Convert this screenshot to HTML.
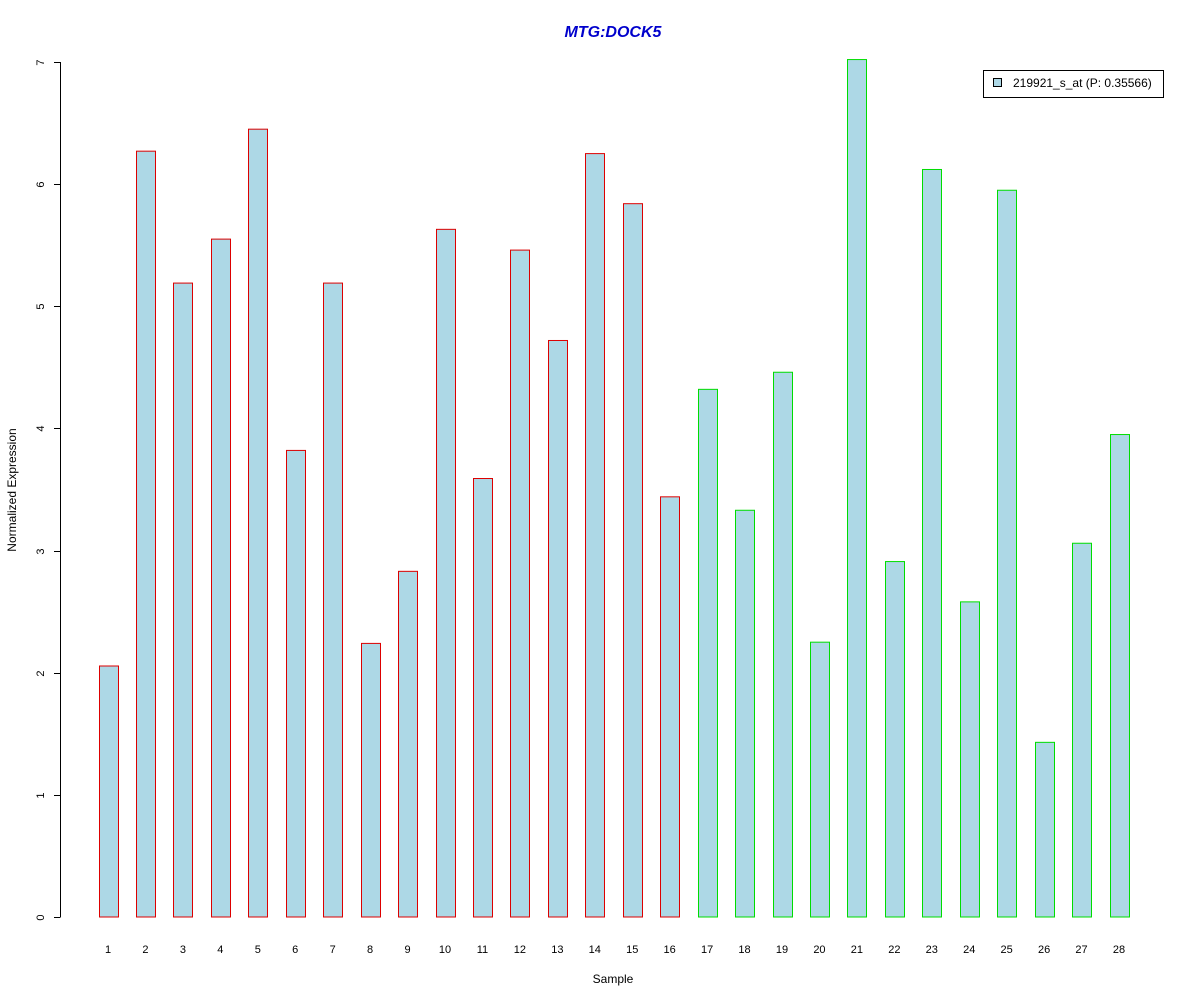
<!DOCTYPE html>
<html><head><meta charset="utf-8"><style>
body{margin:0;background:#fff}
svg{display:block;font-family:"Liberation Sans",Arial,sans-serif}
</style></head><body>
<svg id="chart" width="1200" height="1000">
<text x="613" y="37" text-anchor="middle" font-size="16" font-weight="bold" font-style="italic" fill="#0000cc">MTG:DOCK5</text>
<text x="16" y="490" transform="rotate(-90 16 490)" text-anchor="middle" font-size="12">Normalized Expression</text>
<text x="613" y="983" text-anchor="middle" font-size="12">Sample</text>
<g id="yaxis"></g>
<g id="bars"></g>
<g id="xlabels"></g>
<g>
<rect x="983.5" y="70.5" width="180" height="27" fill="#fff" stroke="#000"/>
<rect x="993.5" y="78.5" width="8" height="8" fill="#add8e6" stroke="#000"/>
<text x="1013" y="87" font-size="12">219921_s_at (P: 0.35566)</text>
</g>
</svg>
<script>
const categories=["1","2","3","4","5","6","7","8","9","10","11","12","13","14","15","16","17","18","19","20","21","22","23","24","25","26","27","28"];
const values=[2.055,6.27,5.19,5.55,6.45,3.82,5.19,2.24,2.83,5.63,3.59,5.46,4.72,6.25,5.84,3.44,4.32,3.33,4.46,2.25,7.02,2.91,6.12,2.58,5.95,1.43,3.06,3.95];
const groups=["a","a","a","a","a","a","a","a","a","a","a","a","a","a","a","a","b","b","b","b","b","b","b","b","b","b","b","b"];
const yTicks=[0,1,2,3,4,5,6,7];
const NS="http://www.w3.org/2000/svg";
const y=v=>917-v*(855/7);
const x=i=>108+i*(1011/27);
const ya=document.getElementById('yaxis'),bg=document.getElementById('bars'),xl=document.getElementById('xlabels');
function mk(tag,attrs,parent){const e=document.createElementNS(NS,tag);for(const k in attrs)e.setAttribute(k,attrs[k]);parent.appendChild(e);return e;}
const axl=mk('line',{x1:60.5,x2:60.5,y1:y(yTicks[0]),y2:y(yTicks[yTicks.length-1]),stroke:'#000'},ya);


yTicks.forEach(t=>{
 const yy=Math.round(y(t))+0.5;
 const tk=mk('line',{x1:54,x2:60.5,y1:yy,y2:yy,stroke:'#000'},ya);
 
 
 const tx=mk('text',{x:44,y:yy,'font-size':11,'text-anchor':'middle',transform:`rotate(-90 44 ${yy})`},ya);
 tx.textContent=t;
 
 
});
values.forEach((v,i)=>{
 const cx=x(i);
 const r=mk('rect',{x:Math.round(cx-9.5)+0.5,y:y(v),width:19,height:917-y(v),fill:'#add8e6',stroke:groups[i]==='a'?'#dd0000':'#00dd00'},bg);
 
 
 const t=mk('text',{x:cx,y:953,'font-size':11,'text-anchor':'middle'},xl);
 t.textContent=categories[i];
 
 
});
</script>
</body></html>
